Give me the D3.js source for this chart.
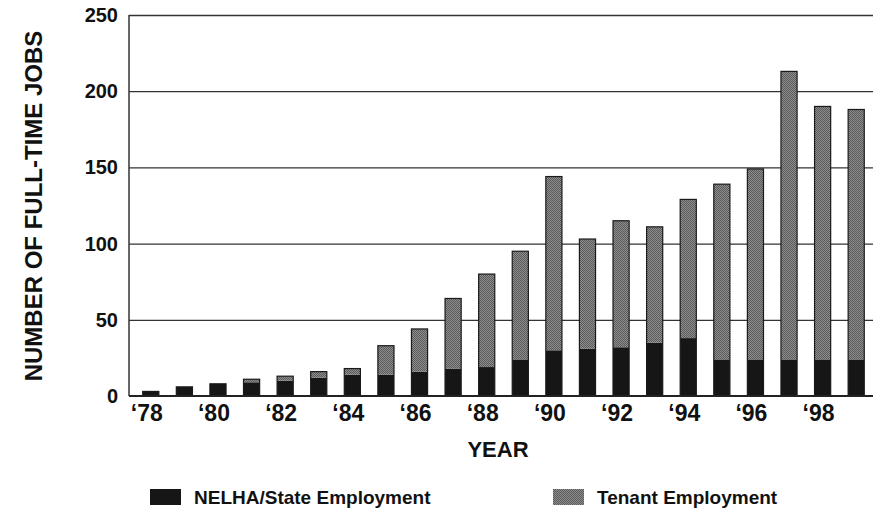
<!DOCTYPE html>
<html>
<head>
<meta charset="utf-8">
<script src="https://cdn.jsdelivr.net/npm/d3@7"></script>
<style>
  body { margin: 0; background: #fff; }
  text { font-family: "Liberation Sans", Arial, sans-serif; font-weight: bold; fill: #111; }
</style>
</head>
<body>
<script>
// values
const years = [1978, 1979, 1980, 1981, 1982, 1983, 1984, 1985, 1986, 1987, 1988,
               1989, 1990, 1991, 1992, 1993, 1994, 1995, 1996, 1997, 1998, 1999];
const nelha  = [3, 6, 8, 9, 10, 12, 14, 14, 16, 18, 19, 24, 30, 31, 32, 35, 38, 24, 24, 24, 24, 24];
const tenant = [0, 0, 0, 2, 3, 4, 4, 19, 28, 46, 61, 71, 114, 72, 83, 76, 91, 115, 125, 189, 166, 164];
const yTicks = [0, 50, 100, 150, 200, 250];
const labelYears = [1978, 1980, 1982, 1984, 1986, 1988, 1990, 1992, 1994, 1996, 1998];
const seriesNames = ["NELHA/State Employment", "Tenant Employment"];

const W = 873, H = 511;
const plotL = 129, plotT = 15, plotB = 396, plotR = 873;

const svg = d3.select("body").append("svg")
    .attr("width", W)
    .attr("height", H);

// dithered grey like the scanned print
const defs = svg.append("defs");
const pat = defs.append("pattern")
    .attr("id", "dither")
    .attr("width", 2).attr("height", 2)
    .attr("patternUnits", "userSpaceOnUse");
pat.append("rect").attr("width", 2).attr("height", 2).attr("fill", "#8e8e8e");
pat.append("rect").attr("width", 1).attr("height", 1).attr("fill", "#5a5a5a");
pat.append("rect").attr("x", 1).attr("y", 1).attr("width", 1).attr("height", 1).attr("fill", "#5a5a5a");

const colors = ["#161616", "url(#dither)"];

const x = d3.scaleBand()
    .domain(years)
    .range([134, 873])
    .paddingInner(0.52)
    .paddingOuter(0.26);

const y = d3.scaleLinear()
    .domain([0, 250])
    .range([plotB, plotT]);

// grid lines
svg.append("g")
    .attr("transform", `translate(${plotL},0)`)
    .call(d3.axisLeft(y).tickValues(yTicks.slice(1)).tickSize(-(plotR - plotL)).tickFormat(""))
    .call(g => g.select(".domain").remove())
    .call(g => g.selectAll("line").attr("stroke", "#333").attr("stroke-width", 1.3));

// y tick labels
svg.append("g")
    .attr("transform", `translate(${plotL},0)`)
    .call(d3.axisLeft(y).tickValues(yTicks).tickSize(0).tickPadding(11))
    .call(g => g.select(".domain").remove())
    .call(g => g.selectAll("text")
        .style("font-size", "20px")
        .style("font-family", "Liberation Sans, Arial, sans-serif")
        .style("font-weight", "bold")
        .attr("fill", "#111"));

// stacked bars
const stackData = years.map((yr, i) => ({ year: yr, nelha: nelha[i], tenant: tenant[i] }));
const stack = d3.stack().keys(["nelha", "tenant"])(stackData);

svg.append("g")
    .selectAll("g")
    .data(stack)
    .join("g")
    .attr("fill", (d, i) => colors[i])
    .selectAll("rect")
    .data(d => d.filter(p => p[1] > p[0]))
    .join("rect")
    .attr("x", d => x(d.data.year))
    .attr("width", x.bandwidth())
    .attr("y", d => y(d[1]))
    .attr("height", d => y(d[0]) - y(d[1]));

// bar outlines
svg.append("g")
    .selectAll("rect")
    .data(stackData)
    .join("rect")
    .attr("x", d => x(d.year))
    .attr("width", x.bandwidth())
    .attr("y", d => y(d.nelha + d.tenant))
    .attr("height", d => y(0) - y(d.nelha + d.tenant))
    .attr("fill", "none")
    .attr("stroke", "#1a1a1a")
    .attr("stroke-width", 1.2);

// axis lines
svg.append("line")
    .attr("x1", plotL).attr("x2", plotL)
    .attr("y1", plotT).attr("y2", plotB)
    .attr("stroke", "#333").attr("stroke-width", 1.5);
svg.append("line")
    .attr("x1", plotL).attr("x2", plotR)
    .attr("y1", plotB).attr("y2", plotB)
    .attr("stroke", "#222").attr("stroke-width", 2);

// x tick labels
svg.append("g")
    .selectAll("text")
    .data(labelYears)
    .join("text")
    .attr("x", d => x(d) + x.bandwidth() / 2 - 4)
    .attr("y", 421)
    .attr("text-anchor", "middle")
    .style("font-size", "23px")
    .text(d => "\u2018" + String(d).slice(2));

// axis titles
svg.append("text")
    .attr("x", 498)
    .attr("y", 457)
    .attr("text-anchor", "middle")
    .style("font-size", "22px")
    .text("YEAR");

svg.append("text")
    .attr("transform", "translate(42,206) rotate(-90)")
    .attr("text-anchor", "middle")
    .style("font-size", "24px")
    .text("NUMBER OF FULL-TIME JOBS");

// legend
const legendPos = [150, 553];
const legend = svg.append("g")
    .selectAll("g")
    .data(seriesNames)
    .join("g")
    .attr("transform", (d, i) => `translate(${legendPos[i]},489)`);
legend.append("rect")
    .attr("width", 31).attr("height", 16)
    .attr("fill", (d, i) => colors[i]);
legend.append("text")
    .attr("x", 44).attr("y", 15)
    .style("font-size", "19px")
    .text(d => d);
</script>
</body>
</html>
